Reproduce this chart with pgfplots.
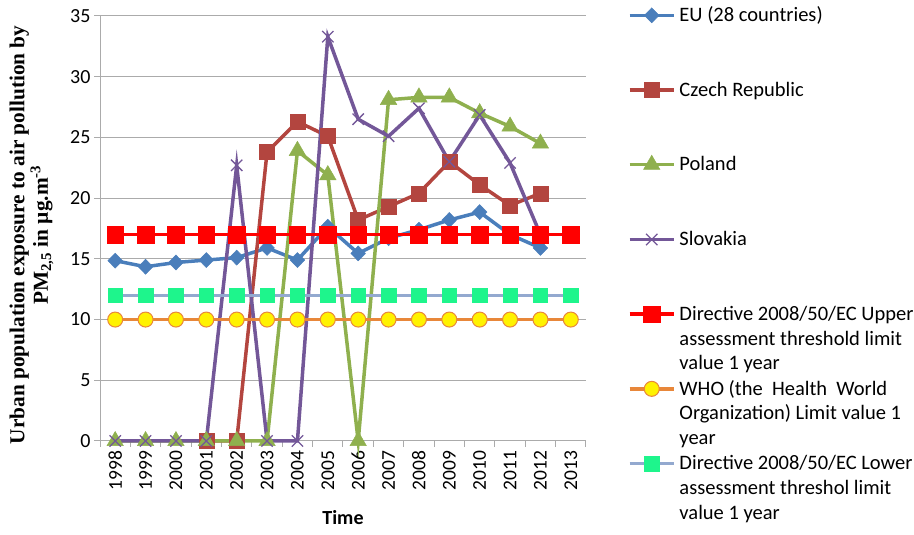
\documentclass[border=0pt]{standalone}
\usepackage{fontspec}
\setmainfont{Carlito}
\newfontfamily\ylabfont{Liberation Serif}
\usepackage{pgfplots}
\pgfplotsset{compat=1.18}
\definecolor{cEU}{HTML}{4A7EBB}
\definecolor{cCZ}{HTML}{B3453F}
\definecolor{cPL}{HTML}{8FB04E}
\definecolor{cSK}{HTML}{735798}
\definecolor{cUP}{HTML}{FF0000}
\definecolor{cWHO}{HTML}{E8873A}
\definecolor{cLOWl}{HTML}{93A9CF}
\definecolor{cLOWm}{HTML}{1EF58C}
\definecolor{gridc}{HTML}{ABABAB}
\newcommand{\lgd}[1]{\parbox[t]{240pt}{\fontsize{20.5}{24.7}\selectfont\strut #1}}
\begin{document}
\begin{tikzpicture}
\useasboundingbox (0,0) rectangle (914pt,535pt);
\begin{axis}[
  at={(100pt,94pt)}, anchor=south west,
  scale only axis, width=486pt, height=425pt,
  xmin=1997.5, xmax=2013.5, ymin=0, ymax=35,
  xtick={1998,...,2013},
  minor xtick={1997.5,1998.5,...,2013.5},
  ytick={0,5,...,35},
  /pgf/number format/1000 sep={},
  /pgf/number format/assume math mode=true,
  axis lines*=left,
  axis line style={draw=gridc, line width=1pt},
  tick align=outside,
  major tick length=6pt, minor tick length=6pt,
  major x tick style={draw=none},
  minor x tick style={draw=gridc, line width=1pt},
  ytick style={draw=gridc, line width=1pt},
  ymajorgrids, grid style={draw=gridc, line width=1pt},
  xticklabel style={rotate=90, anchor=east, font=\fontsize{19.5}{20}\selectfont},
  yticklabel style={font=\fontsize{20}{22}\selectfont},
  ylabel={Urban population exposure to air pollution by\\PM\textsubscript{2,5} in µg.m\textsuperscript{-3}},
  ylabel style={at={(axis description cs:-0.141,0.485)}, anchor=center, align=center, font=\ylabfont\bfseries\fontsize{21.3}{23.5}\selectfont},
  xlabel={Time},
  xlabel style={at={(axis description cs:0.5,-0.179)}, anchor=center, font=\bfseries\fontsize{20}{24}\selectfont},
  legend style={at={(axis description cs:1.0864,1.0273)}, anchor=north west, draw=none, fill=none, inner sep=0pt, outer sep=0pt, row sep=0pt, column sep=4pt, nodes={inner sep=0pt, text height=17.2pt, text depth=57.5pt}},
  legend cell align=left,
  legend image code/.code={\draw[yshift=26.4pt, mark repeat=2,mark phase=2] plot coordinates {(0pt,0pt) (22pt,0pt) (44pt,0pt)};},
  clip=false,
  every axis plot/.append style={line width=3.5pt},
]
\addplot[color=cEU, mark=diamond*, mark size=7.5pt, mark options={xscale=1.3, line width=0.5pt, fill=cEU}] coordinates {
(1998,14.85)(1999,14.35)(2000,14.7)(2001,14.9)(2002,15.1)(2003,15.9)(2004,14.9)(2005,17.65)(2006,15.45)(2007,16.7)(2008,17.4)(2009,18.2)(2010,18.85)(2011,17.0)(2012,15.9)};
\addlegendentry{\lgd{EU (28 countries)}}
\addplot[color=cCZ, mark=square*, mark size=7.5pt, mark options={line width=0.5pt, fill=cCZ}] coordinates {
(2001,0)(2002,0)(2003,23.8)(2004,26.3)(2005,25.1)(2006,18.2)(2007,19.3)(2008,20.4)(2009,23.0)(2010,21.1)(2011,19.4)(2012,20.4)};
\addlegendentry{\lgd{Czech Republic}}
\addplot[color=cPL, mark=triangle*, mark size=9.5pt, mark options={line width=0.5pt, fill=cPL}] coordinates {
(1998,0)(1999,0)(2000,0)(2001,0)(2002,0)(2003,0)(2004,23.9)(2005,21.9)(2006,0)(2007,28.1)(2008,28.3)(2009,28.3)(2010,27.0)(2011,25.9)(2012,24.5)};
\addlegendentry{\lgd{Poland}}
\addplot[color=cSK, mark=x, mark size=8pt, mark options={line width=1.3pt}] coordinates {
(1998,0)(1999,0)(2000,0)(2001,0)(2002,22.7)(2003,0)(2004,0)(2005,33.3)(2006,26.5)(2007,25.1)(2008,27.4)(2009,23.0)(2010,26.85)(2011,22.9)(2012,17.0)};
\addlegendentry{\lgd{Slovakia}}
\addplot[color=cUP, mark=square*, mark size=8.3pt, mark options={line width=0.5pt, fill=cUP}] coordinates {
(1998,17)(1999,17)(2000,17)(2001,17)(2002,17)(2003,17)(2004,17)(2005,17)(2006,17)(2007,17)(2008,17)(2009,17)(2010,17)(2011,17)(2012,17)(2013,17)};
\addlegendentry{\lgd{Directive 2008/50/EC Upper\\assessment threshold limit\\value 1 year}}
\addplot[color=cWHO, mark=*, mark size=7.5pt, mark options={line width=1pt, draw=cWHO, fill=yellow}] coordinates {
(1998,10)(1999,10)(2000,10)(2001,10)(2002,10)(2003,10)(2004,10)(2005,10)(2006,10)(2007,10)(2008,10)(2009,10)(2010,10)(2011,10)(2012,10)(2013,10)};
\addlegendentry{\lgd{WHO (the\ \ Health\ \ World\\Organization) Limit value 1\\year}}
\addplot[color=cLOWl, mark=square*, mark size=7.3pt, mark options={line width=0.5pt, draw=cLOWm, fill=cLOWm}] coordinates {
(1998,12)(1999,12)(2000,12)(2001,12)(2002,12)(2003,12)(2004,12)(2005,12)(2006,12)(2007,12)(2008,12)(2009,12)(2010,12)(2011,12)(2012,12)(2013,12)};
\addlegendentry{\lgd{Directive 2008/50/EC Lower\\assessment threshol limit\\value 1 year}}
\end{axis}
\end{tikzpicture}
\end{document}
